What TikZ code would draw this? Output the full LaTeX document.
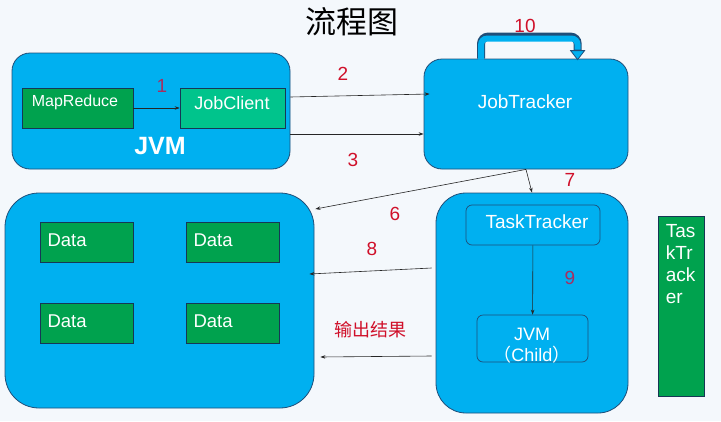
\documentclass[tikz,border=0pt]{standalone}
\usepackage{fontspec}
\setmainfont{Liberation Sans}
\newfontfamily\cjk{Noto Sans CJK SC}
\usetikzlibrary{arrows.meta,calc}
\definecolor{bg}{HTML}{F4F8FC}
\definecolor{jblue}{HTML}{00B0F0}
\definecolor{jborder}{HTML}{1F4E79}
\definecolor{jgreen}{HTML}{00A24E}
\definecolor{jteal}{HTML}{00C48C}
\definecolor{lbl}{HTML}{D0102A}
\definecolor{lbldark}{HTML}{A82E60}
\tikzset{
  bigbox/.style={draw=jborder, fill=jblue, line width=0.8pt, inner sep=0pt},
  greenbox/.style={draw=jborder!70!black, fill=jgreen, line width=0.6pt, inner sep=0pt, text=white},
  datanode/.style={greenbox, minimum width=93pt, minimum height=40pt, text width=78pt, align=left, font=\fontsize{18.5}{18.5}\selectfont},
  innerbox/.style={draw=jborder, fill=jblue, line width=0.7pt, rounded corners=6pt, inner sep=0pt, text=white},
  conn/.style={draw=black!85, line width=0.6pt, -{Stealth[length=5pt,width=3.5pt]}},
  num/.style={text=lbl, font=\fontsize{19}{19}\selectfont},
  numdark/.style={text=lbldark, font=\fontsize{19}{19}\selectfont},
  whitetxt/.style={text=white, font=\fontsize{19}{19}\selectfont}
}
\begin{document}
\begin{tikzpicture}[x=1pt,y=-1pt]
\fill[bg] (0,0) rectangle (721,421);
\useasboundingbox (0,0) rectangle (721,421);

% title
\node (title) at (352,22) {\cjk\fontsize{31}{31}\selectfont 流程图};

% client JVM
\node[bigbox, rounded corners=18pt, minimum width=278pt, minimum height=116pt] (jvm) at (151,111) {};
\node[greenbox, minimum width=111pt, minimum height=40pt] (mr) at (77.5,108) {};
\node[text=white, font=\fontsize{16}{16}\selectfont] (mrlbl) at (75,102) {MapReduce};
\node[greenbox, fill=jteal, minimum width=105pt, minimum height=40pt] (jc) at (232.5,108) {};
\node[text=white, font=\fontsize{18}{18}\selectfont] (jclbl) at (232,103) {JobClient};
\draw[conn] (mr) -- (jc);
\node[numdark] (n1) at (162,86) {1};
\node[text=white, font=\bfseries\fontsize{25}{25}\selectfont] (jvmlbl) at (160,146) {JVM};

% JobTracker
\node[bigbox, rounded corners=18pt, minimum width=204pt, minimum height=110pt] (jt) at (526,114) {};
\node[whitetxt] (jtlbl) at (525,102) {JobTracker};

% loop arrow 10
\coordinate (l0) at ($(jt.north west)+(57.5,0)$);
\coordinate (l1) at ($(jt.north west)+(154,-8)$);
\draw[jborder, line width=8pt, rounded corners=7pt] (l0) -- ++(0,-22) -- ++(96.5,0) -- (l1);
\draw[jblue, line width=6pt, rounded corners=6pt] ([yshift=-1]l0) -- ++(0,-21) -- ++(96.5,0) -- ([yshift=1]l1);
\fill[jblue, draw=jborder, line width=0.8pt] ($(l1)+(-7,0)$) -- ($(l1)+(7,0)$) -- ($(l1)+(0,9)$) -- cycle;
\node[num] (n10) at (525,26) {10};

% arrows 2 and 3
\draw[conn] (jvm.east |- 0,97) -- ([xshift=6]jt.west |- 0,94);
\node[num] (n2) at (343,74) {2};
\draw[conn] (jvm.east |- 0,134) -- (jt.west |- 0,134);
\node[num] (n3) at (353,160) {3};

% Data area
\node[bigbox, rounded corners=34pt, minimum width=309pt, minimum height=215pt] (data) at (159.5,300.5) {};
\node[datanode] (d1) at (86.5,242) {Data\vphantom{p}\\[5pt]};
\node[datanode] (d2) at (232.5,242) {Data\vphantom{p}\\[5pt]};
\node[datanode] (d3) at (86.5,323.5) {Data\vphantom{p}\\[5pt]};
\node[datanode] (d4) at (232.5,323.5) {Data\vphantom{p}\\[5pt]};

% TaskTracker area
\node[bigbox, rounded corners=30pt, minimum width=192pt, minimum height=220pt] (tt) at (532,303) {};
\node[innerbox, minimum width=134pt, minimum height=40pt] (tti) at (533,225) {};
\node[whitetxt] (ttilbl) at (537,222) {TaskTracker};
\node[innerbox, minimum width=111pt, minimum height=47pt] (child) at (532.5,338.5) {};
\node[text=white, align=center, font=\fontsize{18}{21}\selectfont] (childlbl) at (532,346) {JVM\\{\cjk （}Child{\cjk ）}};
\draw[conn] (tti) -- (child);
\node[numdark] (n9) at (570,278) {9};

% arrows 6, 7, 8, output
\draw[conn] (jt.south) -- ([xshift=1]data.east |- 0,209);
\node[num] (n6) at (395,214) {6};
\draw[conn] (jt.south) -- (tt.north);
\node[num] (n7) at (570,180) {7};
\draw[conn] ([xshift=-4]tt.west |- 0,268) -- ([xshift=-5]data.east |- 0,274);
\node[num] (n8) at (372,249) {8};
\draw[conn] ([xshift=-4]tt.west |- 0,356) -- ([xshift=6]data.east |- 0,357);
\node[text=lbl, font=\cjk\fontsize{18}{18}\selectfont] (out) at (370,330) {输出结果};

% right green box
\node[greenbox, minimum width=46pt, minimum height=180pt] (rg) at (681,306) {};
\node[anchor=north west, text=white, align=left, inner sep=0pt, font=\fontsize{19}{22}\selectfont] (rgt) at ([xshift=8,yshift=-9]rg.north west) {Tas\\kTr\\ack\\er};
\end{tikzpicture}
\end{document}
